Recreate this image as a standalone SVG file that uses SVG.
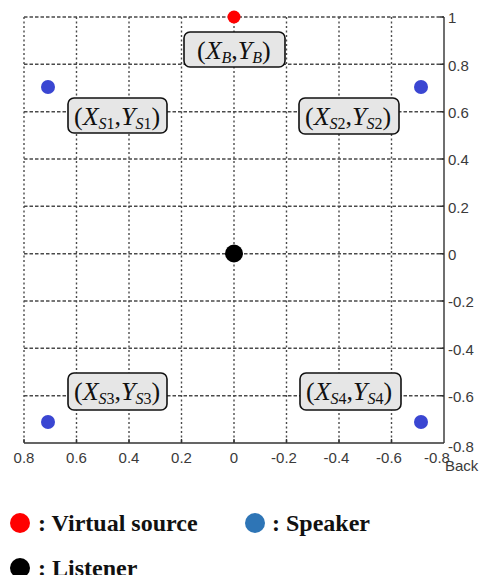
<svg xmlns="http://www.w3.org/2000/svg" width="480" height="575" viewBox="0 0 480 575">
  <style>
    .gh { stroke: #4a4a4a; stroke-width: 1.4; stroke-dasharray: 3.5 2; fill: none; }
    .gv { stroke: #4a4a4a; stroke-width: 1.4; stroke-dasharray: 2 2.5; fill: none; }
    .axis { stroke: #333; stroke-width: 1.4; fill: none; }
    .tick { font-family: "Liberation Sans", Arial, sans-serif; font-size: 15px; fill: #3a3a3a; }
    .box { fill: #e6e6e6; stroke: #111; stroke-width: 1.6; }
    .lbl { font-family: "Liberation Serif", "Times New Roman", serif; font-size: 26px; fill: #111; }
    .it { font-style: italic; }
    .sub { font-size: 16px; }
    .leg { font-family: "Liberation Serif", "Times New Roman", serif; font-size: 24px; font-weight: bold; fill: #111; }
  </style>

  <!-- grid -->
  <g id="grid">
    <path class="gh" d="M24 17H444M24 64.3H444M24 111.7H444M24 159H444M24 206.3H444M24 253.7H444M24 301H444M24 348.3H444M24 395.7H444"/>
    <path class="gv" d="M24 17V443M76.5 17V443M129 17V443M181.5 17V443M234 17V443M286.5 17V443M339 17V443M391.5 17V443"/>
  </g>

  <!-- axes -->
  <g id="axes">
    <path class="axis" d="M444 17V443M24 443H444"/>
    <path class="axis" d="M444 17h-4M444 64.3h-4M444 111.7h-4M444 159h-4M444 206.3h-4M444 253.7h-4M444 301h-4M444 348.3h-4M444 395.7h-4"/>
    <path class="axis" d="M24 443v-4M76.5 443v-4M129 443v-4M181.5 443v-4M234 443v-4M286.5 443v-4M339 443v-4M391.5 443v-4"/>
    <g class="tick">
      <text x="448" y="23">1</text>
      <text x="448" y="70.5">0.8</text>
      <text x="448" y="117.5">0.6</text>
      <text x="448" y="165">0.4</text>
      <text x="448" y="212.5">0.2</text>
      <text x="448" y="259.5">0</text>
      <text x="448" y="307">-0.2</text>
      <text x="448" y="354.5">-0.4</text>
      <text x="448" y="401.5">-0.6</text>
      <text x="448" y="452">-0.8</text>
    </g>
    <g class="tick" text-anchor="middle">
      <text x="24" y="463">0.8</text>
      <text x="76.5" y="463">0.6</text>
      <text x="129" y="463">0.4</text>
      <text x="181.5" y="463">0.2</text>
      <text x="234" y="463">0</text>
      <text x="284" y="463">-0.2</text>
      <text x="336.5" y="463">-0.4</text>
      <text x="389" y="463">-0.6</text>
      <text x="437" y="463">-0.8</text>
    </g>
    <text class="tick" x="445" y="471">Back</text>
  </g>

  <!-- sources, speakers, listener -->
  <g id="virtual-source"><circle cx="234" cy="17" r="6.5" fill="#ff0000"/></g>
  <g id="speaker1"><circle cx="48" cy="87" r="7" fill="#3a46d2"/></g>
  <g id="speaker2"><circle cx="421" cy="87" r="7" fill="#3a46d2"/></g>
  <g id="speaker3"><circle cx="48" cy="422" r="7" fill="#3a46d2"/></g>
  <g id="speaker4"><circle cx="421" cy="422" r="7" fill="#3a46d2"/></g>
  <g id="listener"><circle cx="234" cy="253.5" r="9" fill="#000"/></g>

  <!-- coordinate labels -->
  <g id="label-b">
    <rect class="box" x="184" y="32" width="101" height="35" rx="6"/>
    <text class="lbl" x="197" y="59">(<tspan class="it">X</tspan><tspan class="sub it" dy="4">B</tspan><tspan dy="-4">,</tspan><tspan class="it">Y</tspan><tspan class="sub it" dy="4">B</tspan><tspan dy="-4">)</tspan></text>
  </g>
  <g id="label-s1">
    <rect class="box" x="68" y="98" width="99" height="35" rx="6"/>
    <text class="lbl" x="74" y="125">(<tspan class="it">X</tspan><tspan class="sub" dy="4"><tspan class="it">S</tspan>1</tspan><tspan dy="-4">,</tspan><tspan class="it">Y</tspan><tspan class="sub" dy="4"><tspan class="it">S</tspan>1</tspan><tspan dy="-4">)</tspan></text>
  </g>
  <g id="label-s2">
    <rect class="box" x="299" y="98" width="100" height="36" rx="6"/>
    <text class="lbl" x="305" y="125">(<tspan class="it">X</tspan><tspan class="sub" dy="4"><tspan class="it">S</tspan>2</tspan><tspan dy="-4">,</tspan><tspan class="it">Y</tspan><tspan class="sub" dy="4"><tspan class="it">S</tspan>2</tspan><tspan dy="-4">)</tspan></text>
  </g>
  <g id="label-s3">
    <rect class="box" x="68" y="373" width="99" height="37" rx="6"/>
    <text class="lbl" x="74" y="400">(<tspan class="it">X</tspan><tspan class="sub" dy="4"><tspan class="it">S</tspan>3</tspan><tspan dy="-4">,</tspan><tspan class="it">Y</tspan><tspan class="sub" dy="4"><tspan class="it">S</tspan>3</tspan><tspan dy="-4">)</tspan></text>
  </g>
  <g id="label-s4">
    <rect class="box" x="300" y="373" width="101" height="37" rx="6"/>
    <text class="lbl" x="306" y="400">(<tspan class="it">X</tspan><tspan class="sub" dy="4"><tspan class="it">S</tspan>4</tspan><tspan dy="-4">,</tspan><tspan class="it">Y</tspan><tspan class="sub" dy="4"><tspan class="it">S</tspan>4</tspan><tspan dy="-4">)</tspan></text>
  </g>

  <!-- legend -->
  <g id="legend">
    <circle cx="20" cy="523" r="10" fill="#ff0000"/>
    <text class="leg" x="38" y="531">: Virtual  source</text>
    <circle cx="255" cy="523" r="10" fill="#2e75b6"/>
    <text class="leg" x="272" y="531">: Speaker</text>
    <circle cx="20" cy="568" r="10" fill="#000"/>
    <text class="leg" x="38" y="576">: Listener</text>
  </g>
</svg>
